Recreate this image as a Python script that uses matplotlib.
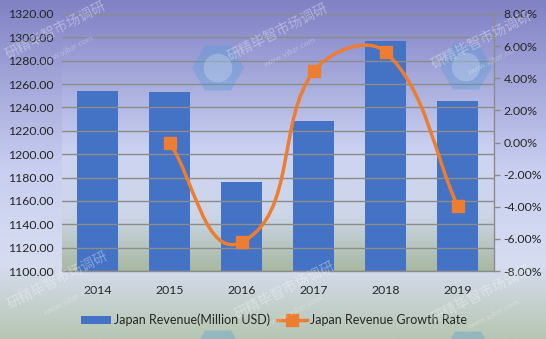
import numpy as np
import matplotlib
matplotlib.use("Agg")
import matplotlib.pyplot as plt
from matplotlib.colors import LinearSegmentedColormap
from matplotlib.path import Path
from matplotlib.patches import PathPatch, RegularPolygon, Circle
from matplotlib.lines import Line2D
from matplotlib.patches import Patch
from matplotlib.ticker import FuncFormatter, MultipleLocator

years = ["2014", "2015", "2016", "2017", "2018", "2019"]
revenue = [1254.3, 1253.6, 1175.9, 1228.0, 1297.0, 1245.8]
growth = [None, -0.06, -6.20, 4.43, 5.62, -3.95]  # percent

plt.rcParams['font.family'] = ['Lato', 'DejaVu Sans']

W, H = 546, 339
fig = plt.figure(figsize=(W / 100, H / 100), dpi=100)

bg_cmap = LinearSegmentedColormap.from_list(
    "bg",
    [(0.0, (128/255, 130/255, 196/255)),
     (0.5, (200/255, 207/255, 240/255)),
     (0.78, (214/255, 221/255, 240/255)),
     (1.0, (182/255, 198/255, 178/255))])

bgax = fig.add_axes([0, 0, 1, 1], zorder=-10)
bgax.imshow(np.linspace(0, 1, 256).reshape(-1, 1), aspect='auto', cmap=bg_cmap,
            extent=[0, 1, 0, 1], origin='upper')
bgax.set_xlim(0, 1)
bgax.set_ylim(0, 1)
bgax.set_axis_off()

left, right = 61.7 / W, 493.7 / W
bottom, top = 1 - 271 / H, 1 - 14 / H
ax = fig.add_axes([left, bottom, right - left, top - bottom])
ax.patch.set_alpha(0)

plot_cmap = LinearSegmentedColormap.from_list(
    "pl",
    [(0.0, (132/255, 134/255, 200/255)),
     (0.55, (205/255, 212/255, 242/255)),
     (0.78, (205/255, 214/255, 232/255)),
     (1.0, (168/255, 184/255, 160/255))])
ax.imshow(np.linspace(0, 1, 256).reshape(-1, 1), aspect='auto', cmap=plot_cmap,
          extent=[-0.5, len(years) - 0.5, 1100, 1320], origin='upper', zorder=0)

x = np.arange(len(years))
ax.bar(x, revenue, width=0.57, color='#4472C4', zorder=2)
ax.set_xlim(-0.5, len(years) - 0.5)
ax.set_ylim(1100, 1320)
ax.yaxis.set_major_locator(MultipleLocator(20))
ax.yaxis.set_major_formatter(FuncFormatter(lambda v, p: f"{v:.2f}"))
ax.set_xticks(x)
ax.set_xticklabels(years)
ax.grid(axis='y', color='#8c8c8c', linewidth=1.0, zorder=1)
ax.set_axisbelow(False)
for s in ['top', 'right', 'left']:
    ax.spines[s].set_visible(False)
ax.spines['bottom'].set_color('#8c8c8c')
ax.spines['bottom'].set_linewidth(1.0)
ax.tick_params(axis='y', length=0, pad=6, labelsize=8.8, labelcolor='#262626')
ax.tick_params(axis='x', length=0, pad=10, labelsize=8.8, labelcolor='#262626')

ax2 = ax.twinx()
ax2.set_ylim(-8, 8)
ax2.yaxis.set_major_locator(MultipleLocator(2))
ax2.yaxis.set_major_formatter(FuncFormatter(lambda v, p: f"{v:.2f}%"))
for s in ['top', 'left', 'bottom']:
    ax2.spines[s].set_visible(False)
ax2.spines['right'].set_color('#8c8c8c')
ax2.spines['right'].set_linewidth(1.0)
ax2.tick_params(axis='y', length=4, width=1, color='#8c8c8c', pad=3,
                labelsize=8.8, labelcolor='#262626')

# smoothed line (Excel-like: tangents scaled by segment length, in pixel space)
gx = np.array([i for i, g in enumerate(growth) if g is not None], dtype=float)
gy = np.array([g for g in growth if g is not None], dtype=float)
pix = ax2.transData.transform(np.column_stack([gx, gy]))
n = len(pix)
tang = []
for i in range(n):
    a = pix[max(i - 1, 0)]
    b = pix[min(i + 1, n - 1)]
    d = b - a
    tang.append(d / np.hypot(*d))
verts = [pix[0]]
codes = [Path.MOVETO]
for i in range(n - 1):
    L = np.hypot(*(pix[i + 1] - pix[i]))
    c1 = pix[i] + tang[i] * L / 3.0
    c2 = pix[i + 1] - tang[i + 1] * L / 3.0
    verts += [c1, c2, pix[i + 1]]
    codes += [Path.CURVE4] * 3
verts_data = ax2.transData.inverted().transform(np.array(verts))
ax2.add_patch(PathPatch(Path(verts_data, codes), facecolor='none', edgecolor='#ED7D31',
                        linewidth=2.5, zorder=3, capstyle='round'))
ax2.plot(gx, gy, linestyle='none', marker='s', markersize=8.5,
         color='#ED7D31', zorder=4)

# overlay: faint logos and watermarks
ov = fig.add_axes([0, 0, 1, 1], zorder=20)
ov.set_xlim(0, W)
ov.set_ylim(H, 0)
ov.set_axis_off()
ov.patch.set_alpha(0)
for (px, py, r) in [(218, 68, 26), (466, 67, 26), (218, 353, 26), (468, 354, 26)]:
    ov.add_patch(RegularPolygon((px, py), 6, radius=r, orientation=np.pi / 6,
                                facecolor='#4f9bd6', alpha=0.33, edgecolor='none'))
    ov.add_patch(Circle((px, py), 0.55 * r, facecolor='white', alpha=0.22,
                        edgecolor='none'))

wm = dict(family=['Noto Sans CJK SC', 'DejaVu Sans'], color='white', alpha=0.35,
          rotation=27, ha='center', va='center', fontsize=10)
for (px, py) in [(56, 30), (278, 32), (482, 40), (58, 280), (285, 290), (482, 294)]:
    ov.text(px, py, "研精毕智市场调研", **wm)
    ov.text(px + 12, py + 20, "www.yjbzr.com", color='white',
            alpha=0.3, rotation=27, ha='center', va='center', fontsize=6)

handles = [Patch(facecolor='#4472C4', edgecolor='none'),
           Line2D([0], [0], color='#ED7D31', linewidth=2.5, marker='s', markersize=8)]
fig.legend(handles, ["Japan Revenue(Million USD)", "Japan Revenue Growth Rate"],
           loc='center', bbox_to_anchor=(274 / W, 1 - 320 / H), ncol=2, frameon=False,
           fontsize=9, handlelength=2.4, handletextpad=0.3, columnspacing=0.5,
           labelcolor='#262626')

fig.savefig("out.png", dpi=100)
